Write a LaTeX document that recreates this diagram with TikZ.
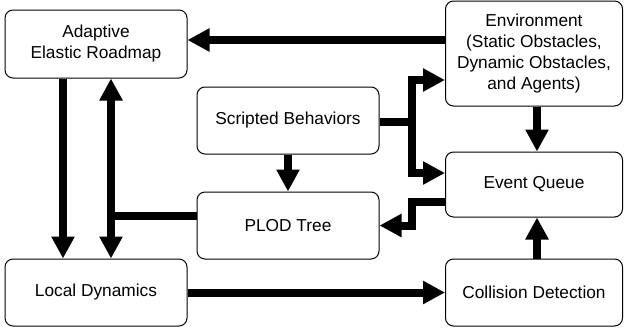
\documentclass[tikz,border=0pt]{standalone}
\usepackage{fontspec}
\setmainfont{Liberation Sans}
\usetikzlibrary{arrows.meta}
\begin{document}
\begin{tikzpicture}[x=1pt,y=-1pt,
	blk/.style={draw,line width=1pt,rounded corners=8pt,align=center,inner sep=0pt,font=\fontsize{17.3}{21}\selectfont},
	flow/.style={line width=8pt,-{Triangle[length=22pt,width=22pt]}}]
	\useasboundingbox (0,0) rectangle (624,330);
	\node[blk,minimum width=182pt,minimum height=68pt] (er) at (96,44) {Adaptive\\Elastic Roadmap};
	\node[blk,minimum width=177pt,minimum height=105pt] (env) at (534,53.5) {Environment\\(Static Obstacles,\\Dynamic Obstacles,\\and Agents)};
	\node[blk,minimum width=182pt,minimum height=67pt] (sb) at (288,120.5) {Scripted Behaviors};
	\node[blk,minimum width=182pt,minimum height=67pt] (plod) at (288,225.5) {PLOD Tree};
	\node[blk,minimum width=177pt,minimum height=65pt] (eq) at (534,184.5) {Event Queue};
	\node[blk,minimum width=182pt,minimum height=67pt] (ld) at (96,292.5) {Local Dynamics};
	\node[blk,minimum width=177pt,minimum height=67pt] (cd) at (534,292.5) {Collision Detection};
	\coordinate (jn) at (111,216);
	\coordinate (sj) at (412,122);
	\coordinate (qj) at (412,202);
	\draw[flow] (env.west |- 0,40) -- (er.east |- 0,40);
	\draw[flow] (er.south -| 63,0) -- (ld.north -| 63,0);
	\draw[flow] (plod.west |- jn) -- (jn) -- (jn |- er.south);
	\draw[flow] (jn) -- (jn |- ld.north);
	\draw[flow] (sb) -- (plod);
	\draw[flow] (sb.east |- sj) -- (sj) |- (env.west |- 0,80);
	\draw[flow] (sj) |- (eq.west |- 0,173);
	\draw[flow] (eq.west |- qj) -- (qj) |- (plod.east);
	\draw[flow] (env.south -| 537,0) -- (eq.north -| 537,0);
	\draw[flow] (cd.north -| 537,0) -- (eq.south -| 537,0);
	\draw[flow] (ld) -- (cd);
\end{tikzpicture}
\end{document}
